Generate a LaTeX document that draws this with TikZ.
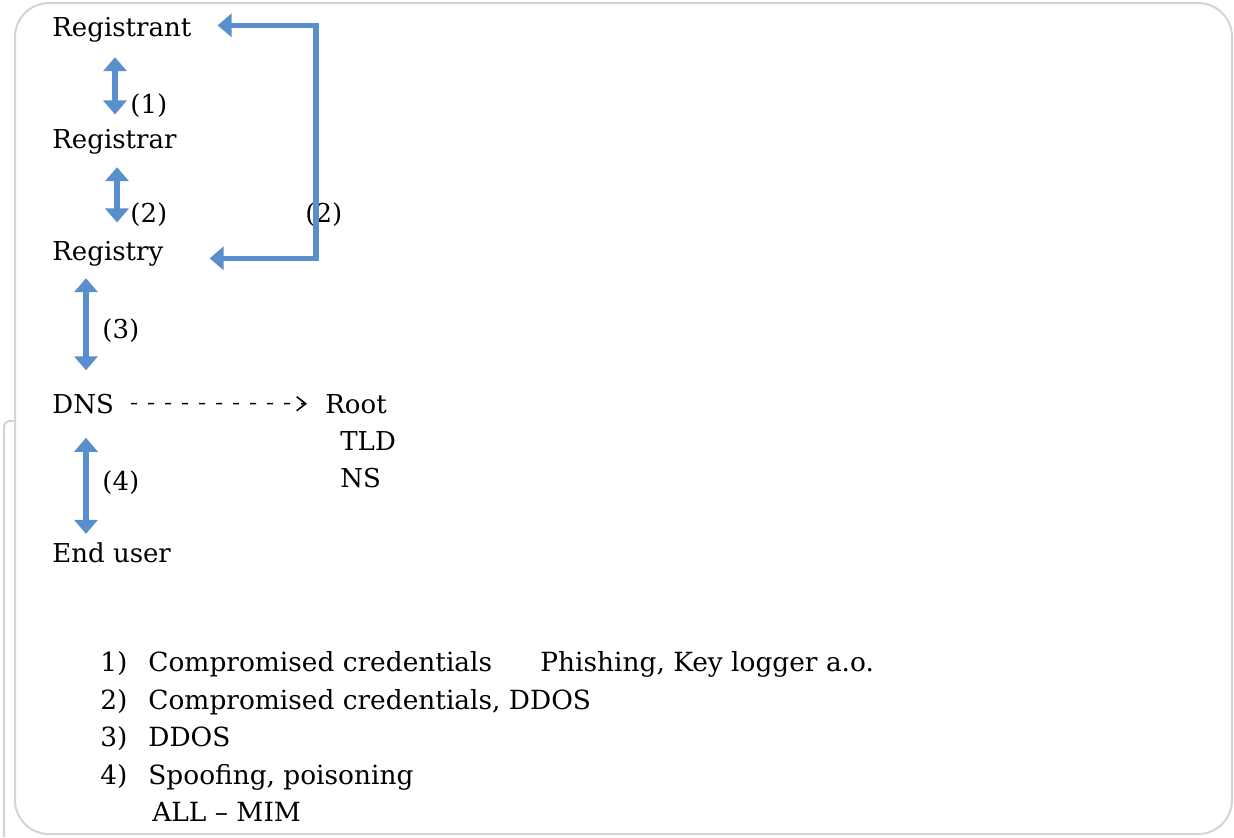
\documentclass[tikz,border=0pt]{standalone}
\usepackage{fontspec}
\usepackage{graphicx}
\setmainfont{DejaVu Serif}
\usetikzlibrary{arrows.meta,calc}
\definecolor{arrowblue}{RGB}{88,143,204}
\definecolor{framegray}{RGB}{212,212,212}
\begin{document}
\begin{tikzpicture}
  [x=0.5pt,y=-0.5pt,
   lbl/.style={anchor=base west,inner sep=0pt,font=\fontsize{13}{15}\selectfont},
   item/.style={lbl,font=\fontsize{13.2}{15}\selectfont},
   bluearrow/.style={draw=arrowblue,line width=2.8pt,>={Triangle[width=11.5pt,length=7pt]}},
   dashline/.style={draw=black,line width=0.8pt,dash pattern=on 3pt off 5.5pt,
     >={Straight Barb[length=4.5pt,width=7pt]},shorten <=8.5pt,shorten >=9pt},
   frame/.style={draw=framegray,line width=1pt}]
  \useasboundingbox (0,0) rectangle (1234,837);
  \draw[frame,rounded corners=17pt] (15,3) rectangle (1232,834);
  \draw[frame,rounded corners=3pt] (15,421) -- (4,421) -- (4,837);

  \node[lbl] (registrant) at (52,36) {Registrant};
  \node[lbl] (registrar) at (52,148) {Registrar};
  \node[lbl] (registry) at (52,260) {Registry};
  \node[lbl] (dns) at (52,413) {DNS};
  \node[lbl] (root) at (325,413) {Root};
  \node[lbl] (tld) at (340,450) {TLD};
  \node[lbl] (ns) at (340,487) {NS};
  \node[lbl] (enduser) at (52,562) {End user};

  \node[lbl] (l1) at (130,113) {(1)};
  \node[lbl] (l2) at (130,222) {(2)};
  \node[lbl] (l2b) at (305,222) {(2)};
  \node[lbl] (l3) at (102,338) {(3)};
  \node[lbl] (l4) at (102,490) {(4)};

  \draw[bluearrow,<->] ($(registrant.south west)+(63,15)$) -- ($(registrar.north west)+(63,-14)$);
  \draw[bluearrow,<->] ($(registrar.south west)+(65,13)$) -- ($(registry.north west)+(65,-18)$);
  \draw[bluearrow,<->] ($(registry.south west)+(34,12)$) -- ($(dns.north west)+(34,-23)$);
  \draw[bluearrow,<->] ($(dns.south west)+(34,24)$) -- ($(enduser.north west)+(34,-8)$);

  \coordinate (brk) at (316,140);
  \coordinate (bt) at ($(registrant.east)+(26,-4)$);
  \coordinate (bb) at ($(registry.east)+(46,5)$);
  \draw[bluearrow,<->] (bt) -- (bt -| brk) -- (bb -| brk) -- (bb);

  \draw[dashline,->] (dns.east) -- (root.west);

  \foreach \txt [count=\i] in {{Compromised credentials},{Compromised credentials, DDOS},{DDOS},{Spoofing, poisoning}}
  {
    \node[item] (num\i) at (100,634+37.5*\i) {\i)};
    \node[item] (risk\i) at (148,634+37.5*\i) {\txt};
  }
  \node[item] (phishing) at (540,671.5) {Phishing, Key logger a.o.};
  \node[item] (allmim) at (152,821) {ALL – MIM};
\end{tikzpicture}
\end{document}
